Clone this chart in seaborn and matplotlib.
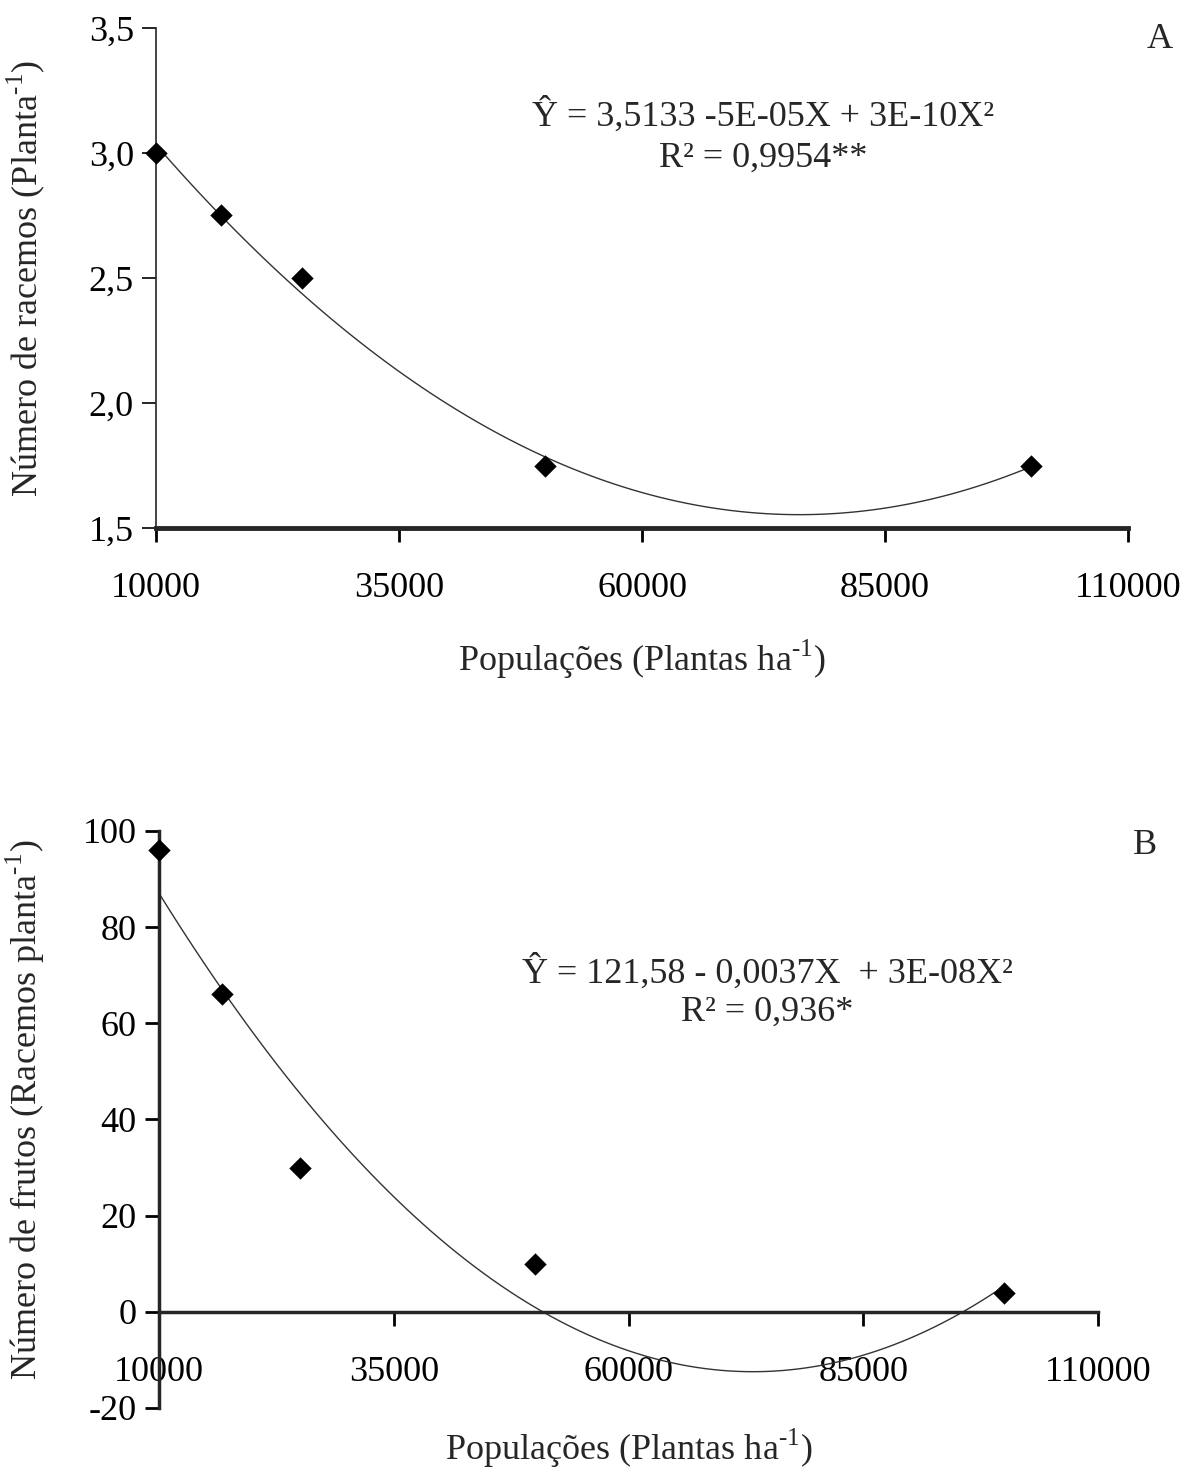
import matplotlib
matplotlib.use('Agg')
import matplotlib.pyplot as plt
from matplotlib.ticker import FuncFormatter
import numpy as np
import seaborn as sns

# Data
populacoes = [10000, 16667, 25000, 50000, 100000]
racemos = [3.0, 2.75, 2.5, 1.75, 1.75]
frutos = [96, 66, 30, 10, 4]

eq_a = ['Ŷ = 3,5133 -5E-05X + 3E-10X²', 'R² = 0,9954**']
eq_b = ['Ŷ = 121,58 - 0,0037X  + 3E-08X²', 'R² = 0,936*']

sns.set_style('ticks')
plt.rcParams['font.family'] = ['Liberation Serif', 'DejaVu Serif']
plt.rcParams['mathtext.fontset'] = 'custom'
plt.rcParams['mathtext.rm'] = 'Liberation Serif'
plt.rcParams['axes.unicode_minus'] = False

FS = 26
SUP = '$^{\\mathrm{\u2010}1}$'

fig = plt.figure(figsize=(11.89, 14.72), dpi=100)
ax_a = fig.add_axes([0.1312, 0.6413, 0.8175, 0.3397])
ax_b = fig.add_axes([0.1337, 0.0435, 0.7898, 0.3920])


def draw_panel(ax, y, ylim, yticks, fmt, ylabel, eq, eq_pos):
    sns.regplot(x=populacoes, y=y, order=2, ci=None, marker='D', color='black', ax=ax,
                scatter_kws={'s': 130, 'zorder': 3, 'clip_on': False, 'linewidths': 0,
                             'alpha': 1, 'color': 'black'},
                line_kws={'lw': 1.0, 'color': '#333333'})
    ax.set_xlim(10000, 110000)
    ax.set_ylim(*ylim)
    ax.set_xticks([10000, 35000, 60000, 85000, 110000])
    ax.set_yticks(yticks)
    ax.yaxis.set_major_formatter(FuncFormatter(fmt))
    ax.spines['top'].set_visible(False)
    ax.spines['right'].set_visible(False)
    ax.tick_params(axis='both', direction='out', length=10, width=2, labelsize=FS, colors='black')
    ax.tick_params(axis='x', pad=22)
    ax.tick_params(axis='y', pad=6)
    ax.set_xlabel('Populações (Plantas ha' + SUP + ')', fontsize=FS)
    ax.set_ylabel(ylabel, fontsize=FS)
    for i, line in enumerate(eq):
        ax.text(eq_pos[0], eq_pos[1][i], line, transform=ax.transAxes,
                ha='center', va='center', fontsize=FS)


draw_panel(ax_a, racemos, (1.5, 3.5), [1.5, 2.0, 2.5, 3.0, 3.5],
           lambda v, p: f'{v:.1f}'.replace('.', ','),
           'Número de racemos (Planta' + SUP + ')', eq_a, (0.625, [0.825, 0.739]))
ax_a.spines['left'].set_linewidth(1.2)
ax_a.spines['bottom'].set_linewidth(3.5)
ax_a.tick_params(axis='y', width=1.2)
ax_a.xaxis.set_label_coords(0.5, -0.22)
ax_a.yaxis.set_label_coords(-0.112, 0.5)

draw_panel(ax_b, frutos, (-20, 100), [-20, 0, 20, 40, 60, 80, 100],
           lambda v, p: f'{int(v)}',
           'Número de frutos (Racemos planta' + SUP + ')', eq_b, (0.6475, [0.754, 0.686]))
ax_b.spines['bottom'].set_position(('data', 0))
ax_b.spines['left'].set_linewidth(2.5)
ax_b.spines['bottom'].set_linewidth(2.5)
ax_b.xaxis.set_label_coords(0.5, -0.033)
ax_b.yaxis.set_label_coords(-0.119, 0.516)

fig.text(1160 / 1189, 1 - 40 / 1472, 'A', ha='center', va='center', fontsize=FS)
fig.text(1145 / 1189, 1 - 845 / 1472, 'B', ha='center', va='center', fontsize=FS)

fig.savefig('out.png', dpi=100)
plt.close(fig)
